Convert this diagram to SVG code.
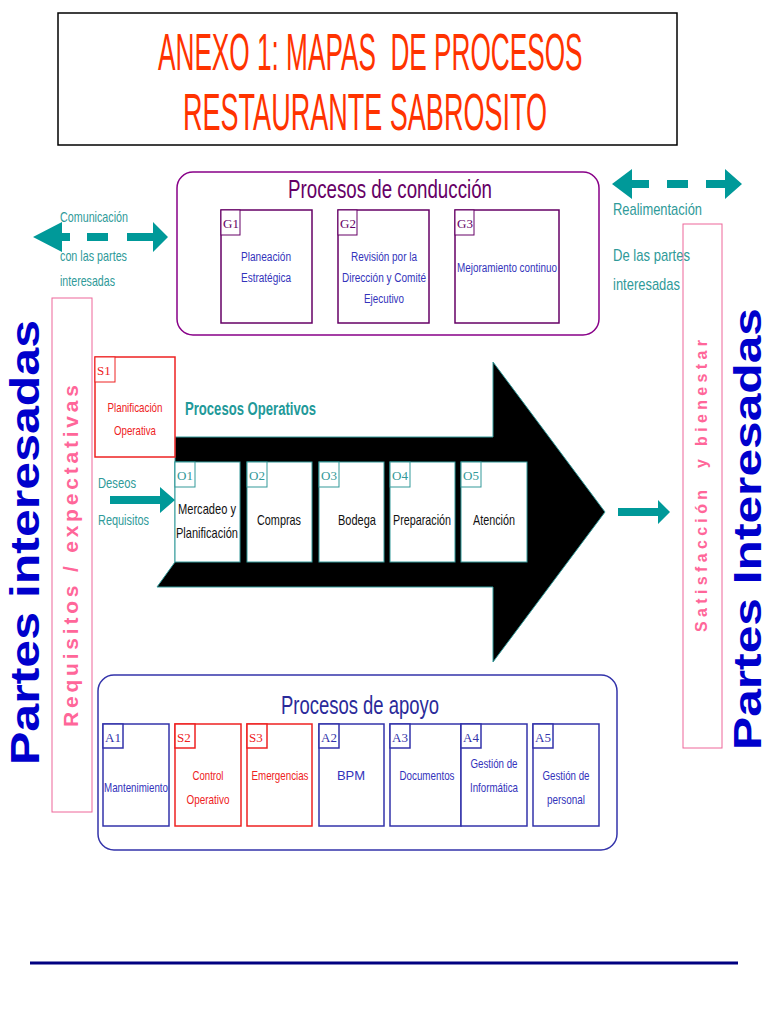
<svg xmlns="http://www.w3.org/2000/svg" width="768" height="1024" viewBox="0 0 768 1024">
<style>
text{font-family:"Liberation Sans",Arial,sans-serif}
.title{fill:#ff3300;font-size:52px}
.teal{fill:#2f9a99;font-size:15px}
.tealL{fill:#2f9a99;font-size:17px}
.gbox{fill:#fff;stroke:#660066;stroke-width:1.5}
.gtag{fill:#fff;stroke:#660066;stroke-width:1}
.gtxt{fill:#3333bb;font-size:12.5px;text-anchor:middle}
.gid{fill:#660066;font-size:13px;font-family:"Liberation Serif",serif}
.obox{fill:#fff;stroke:#339999;stroke-width:1}
.otxt{fill:#111;font-size:15px;text-anchor:middle}
.oid{fill:#339999;font-size:13px;font-family:"Liberation Serif",serif}
.abox{fill:#fff;stroke:#3333aa;stroke-width:1.5}
.atxt{fill:#3333bb;font-size:13px;text-anchor:middle}
.aid{fill:#3333aa;font-size:13px;font-family:"Liberation Serif",serif}
.rbox{fill:#fff;stroke:#ee2222;stroke-width:1.5}
.rtxt{fill:#ee2222;font-size:13px;text-anchor:middle}
.rid{fill:#ee2222;font-size:13px;font-family:"Liberation Serif",serif}
.arr{fill:#009999}
</style>

<g id="title">
<rect x="58" y="13" width="619" height="132" fill="#fff" stroke="#000" stroke-width="1.5"/>
<text class="title" transform="translate(158,70) scale(0.504,1)" xml:space="preserve">ANEXO 1: MAPAS  DE PROCESOS</text>
<text class="title" transform="translate(183,130) scale(0.52,1)">RESTAURANTE SABROSITO</text>
</g>

<g id="conduccion">
<rect x="177" y="172" width="422" height="163" rx="16" fill="#fff" stroke="#880088" stroke-width="1.5"/>
<text x="288" y="198" fill="#660066" font-size="26" textLength="204" lengthAdjust="spacingAndGlyphs">Procesos de conducción</text>
</g>
<g id="G1">
<rect class="gbox" x="221" y="210" width="91" height="113"/>
<rect class="gtag" x="221" y="210" width="19" height="25"/>
<text class="gid" x="223" y="228">G1</text>
<text class="gtxt" x="266" y="261" textLength="50" lengthAdjust="spacingAndGlyphs">Planeación</text>
<text class="gtxt" x="266" y="282" textLength="50" lengthAdjust="spacingAndGlyphs">Estratégica</text>
</g>
<g id="G2">
<rect class="gbox" x="338" y="210" width="91" height="113"/>
<rect class="gtag" x="338" y="210" width="19" height="25"/>
<text class="gid" x="340" y="228">G2</text>
<text class="gtxt" x="384" y="261" textLength="66" lengthAdjust="spacingAndGlyphs">Revisión por la</text>
<text class="gtxt" x="384" y="282" textLength="84" lengthAdjust="spacingAndGlyphs">Dirección y Comité</text>
<text class="gtxt" x="384" y="303" textLength="40" lengthAdjust="spacingAndGlyphs">Ejecutivo</text>
</g>
<g id="G3">
<rect class="gbox" x="455" y="210" width="104" height="113"/>
<rect class="gtag" x="455" y="210" width="19" height="25"/>
<text class="gid" x="457" y="228">G3</text>
<text class="gtxt" x="507" y="272" textLength="100" lengthAdjust="spacingAndGlyphs">Mejoramiento continuo</text>
</g>

<g id="comunicacion">
<text class="teal" x="60" y="222" textLength="68" lengthAdjust="spacingAndGlyphs">Comunicación</text>
<text class="teal" x="60" y="261" textLength="67" lengthAdjust="spacingAndGlyphs">con las partes</text>
<text class="teal" x="60" y="286" textLength="55" lengthAdjust="spacingAndGlyphs">interesadas</text>
</g>
<g id="realimentacion">
<text class="tealL" x="613" y="215" textLength="89" lengthAdjust="spacingAndGlyphs">Realimentación</text>
<text class="tealL" x="613" y="261" textLength="77" lengthAdjust="spacingAndGlyphs">De las partes</text>
<text class="tealL" x="613" y="290" textLength="67" lengthAdjust="spacingAndGlyphs">interesadas</text>
</g>

<g id="requisitos-box">
<rect x="52" y="298" width="40" height="514" fill="none" stroke="#ee6699" stroke-width="1"/>
<text transform="translate(78,727) rotate(-90)" fill="#ff6699" font-size="21" font-weight="bold" textLength="342" lengthAdjust="spacing">Requisitos / expectativas</text>
</g>
<g id="satisfaccion-box">
<rect x="683" y="224" width="39" height="524" fill="none" stroke="#ee6699" stroke-width="1"/>
<text transform="translate(707,632) rotate(-90)" fill="#ff6699" font-size="16" font-weight="bold" textLength="292" lengthAdjust="spacing" xml:space="preserve">Satisfacción  y bienestar</text>
</g>

<g id="partes-left">
<text transform="translate(39,765) rotate(-90)" fill="#0000cc" font-size="40" font-weight="bold" textLength="445" lengthAdjust="spacingAndGlyphs">Partes interesadas</text>
</g>
<g id="partes-right">
<text transform="translate(761,750) rotate(-90)" fill="#0000cc" font-size="38" font-weight="bold" textLength="442" lengthAdjust="spacingAndGlyphs">Partes Interesadas</text>
</g>

<g id="big-arrow">
<polygon points="175,437 493,437 493,362 605,512 493,662 493,587 157,587 175,562" fill="#000" stroke="#339999" stroke-width="1"/>
</g>

<g id="S1">
<rect x="95" y="357" width="80" height="100" fill="#fff" stroke="#ee2222" stroke-width="1.5"/>
<rect x="95" y="357" width="20" height="25" fill="#fff" stroke="#ee2222" stroke-width="1"/>
<text class="rid" x="97" y="375">S1</text>
<text class="rtxt" x="135" y="412" textLength="55" lengthAdjust="spacingAndGlyphs">Planificación</text>
<text class="rtxt" x="135" y="435" textLength="42" lengthAdjust="spacingAndGlyphs">Operativa</text>
</g>

<text x="185" y="415" fill="#229999" font-size="18" font-weight="bold" textLength="131" lengthAdjust="spacingAndGlyphs">Procesos Operativos</text>

<g id="O1">
<rect class="obox" x="175" y="462" width="65" height="100"/>
<rect class="obox" x="175" y="462" width="20" height="25"/>
<text class="oid" x="177" y="480">O1</text>
<text class="otxt" x="207" y="514" textLength="58" lengthAdjust="spacingAndGlyphs">Mercadeo y</text>
<text class="otxt" x="207" y="538" textLength="62" lengthAdjust="spacingAndGlyphs">Planificación</text>
</g>
<g id="O2">
<rect class="obox" x="247" y="462" width="65" height="100"/>
<rect class="obox" x="247" y="462" width="20" height="25"/>
<text class="oid" x="249" y="480">O2</text>
<text class="otxt" x="279" y="525" textLength="44" lengthAdjust="spacingAndGlyphs">Compras</text>
</g>
<g id="O3">
<rect class="obox" x="319" y="462" width="65" height="100"/>
<rect class="obox" x="319" y="462" width="20" height="25"/>
<text class="oid" x="321" y="480">O3</text>
<text class="otxt" x="357" y="525" textLength="38" lengthAdjust="spacingAndGlyphs">Bodega</text>
</g>
<g id="O4">
<rect class="obox" x="390" y="462" width="65" height="100"/>
<rect class="obox" x="390" y="462" width="20" height="25"/>
<text class="oid" x="392" y="480">O4</text>
<text class="otxt" x="422" y="525" textLength="58" lengthAdjust="spacingAndGlyphs">Preparación</text>
</g>
<g id="O5">
<rect class="obox" x="461" y="462" width="66" height="100"/>
<rect class="obox" x="461" y="462" width="20" height="25"/>
<text class="oid" x="463" y="480">O5</text>
<text class="otxt" x="494" y="525" textLength="42" lengthAdjust="spacingAndGlyphs">Atención</text>
</g>

<g id="deseos">
<text class="teal" x="98" y="488" textLength="38" lengthAdjust="spacingAndGlyphs">Deseos</text>
<text class="teal" x="98" y="525" textLength="51" lengthAdjust="spacingAndGlyphs">Requisitos</text>
</g>

<g id="connectors">
<polygon class="arr" points="33,237 62,222 62,233 70,233 70,241 62,241 62,252"/>
<rect class="arr" x="87" y="233" width="21" height="8"/>
<rect class="arr" x="127" y="233" width="23" height="8"/>
<polygon class="arr" points="150,233 153,233 153,222 168,237 153,252 153,241 150,241"/>
<polygon class="arr" points="612,184 632,169 632,180 649,180 649,188 632,188 632,199"/>
<rect class="arr" x="667" y="180" width="21" height="8"/>
<polygon class="arr" points="706,180 725,180 725,169 742,184 725,199 725,188 706,188"/>
<polygon class="arr" points="110,496 160,496 160,487 175,500 160,513 160,504 110,504"/>
<polygon class="arr" points="618,508 658,508 658,500 670,512 658,524 658,516 618,516"/>
</g>

<g id="apoyo">
<rect x="98" y="675" width="519" height="175" rx="16" fill="#fff" stroke="#3333aa" stroke-width="1.5"/>
<text x="281" y="714" fill="#2a2a9a" font-size="26" textLength="158" lengthAdjust="spacingAndGlyphs">Procesos de apoyo</text>
</g>
<g id="A1">
<rect class="abox" x="103" y="724" width="66" height="102"/>
<rect class="abox" x="103" y="724" width="20" height="24" stroke-width="1"/>
<text class="aid" x="105" y="742">A1</text>
<text class="atxt" x="136" y="792" textLength="64" lengthAdjust="spacingAndGlyphs">Mantenimiento</text>
</g>
<g id="S2">
<rect class="rbox" x="175" y="724" width="66" height="102"/>
<rect class="rbox" x="175" y="724" width="20" height="24" stroke-width="1"/>
<text class="rid" x="177" y="742">S2</text>
<text class="rtxt" x="208" y="780" textLength="31" lengthAdjust="spacingAndGlyphs">Control</text>
<text class="rtxt" x="208" y="804" textLength="43" lengthAdjust="spacingAndGlyphs">Operativo</text>
</g>
<g id="S3">
<rect class="rbox" x="247" y="724" width="65" height="102"/>
<rect class="rbox" x="247" y="724" width="20" height="24" stroke-width="1"/>
<text class="rid" x="249" y="742">S3</text>
<text class="rtxt" x="280" y="780" textLength="57" lengthAdjust="spacingAndGlyphs">Emergencias</text>
</g>
<g id="A2">
<rect class="abox" x="319" y="724" width="65" height="102"/>
<rect class="abox" x="319" y="724" width="20" height="24" stroke-width="1"/>
<text class="aid" x="321" y="742">A2</text>
<text class="atxt" x="351" y="780">BPM</text>
</g>
<g id="A3">
<rect class="abox" x="390" y="724" width="71" height="102"/>
<rect class="abox" x="390" y="724" width="20" height="24" stroke-width="1"/>
<text class="aid" x="392" y="742">A3</text>
<text class="atxt" x="427" y="780" textLength="55" lengthAdjust="spacingAndGlyphs">Documentos</text>
</g>
<g id="A4">
<rect class="abox" x="461" y="724" width="66" height="102"/>
<rect class="abox" x="461" y="724" width="20" height="24" stroke-width="1"/>
<text class="aid" x="463" y="742">A4</text>
<text class="atxt" x="494" y="768" textLength="47" lengthAdjust="spacingAndGlyphs">Gestión de</text>
<text class="atxt" x="494" y="792" textLength="48" lengthAdjust="spacingAndGlyphs">Informática</text>
</g>
<g id="A5">
<rect class="abox" x="533" y="724" width="66" height="102"/>
<rect class="abox" x="533" y="724" width="20" height="24" stroke-width="1"/>
<text class="aid" x="535" y="742">A5</text>
<text class="atxt" x="566" y="780" textLength="47" lengthAdjust="spacingAndGlyphs">Gestión de</text>
<text class="atxt" x="566" y="804" textLength="38" lengthAdjust="spacingAndGlyphs">personal</text>
</g>

<line x1="30" y1="963" x2="738" y2="963" stroke="#000080" stroke-width="3"/>
</svg>
